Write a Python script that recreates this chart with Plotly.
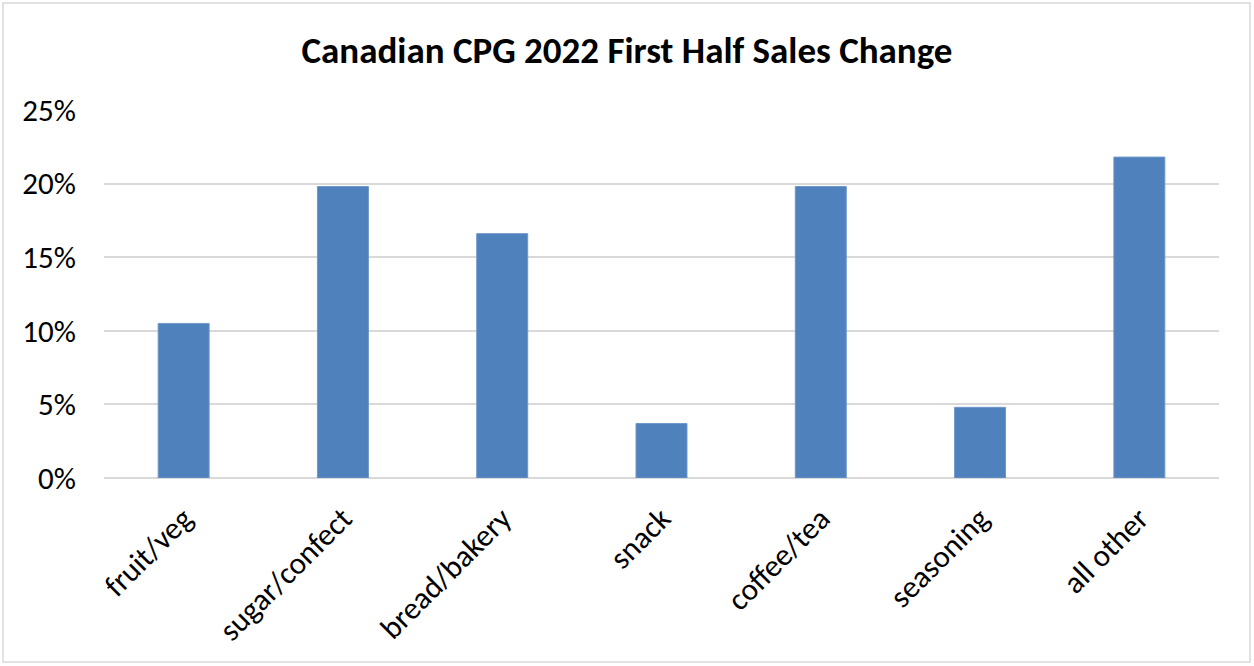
import plotly.graph_objects as go

categories = ["fruit/veg", "sugar/confect", "bread/bakery", "snack", "coffee/tea", "seasoning", "all other"]
values = [10.5, 19.8, 16.6, 3.7, 19.8, 4.8, 21.8]
tick_vals = [0, 5, 10, 15, 20, 25]
tick_text = ["0%", "5%", "10%", "15%", "20%", "25%"]

W, H = 1254, 666
L, R, T, B = 104, 35, 110, 188
pw, ph = W - L - R, H - T - B

font_family = "Carlito, Calibri, Lato, 'Open Sans', sans-serif"

fig = go.Figure(go.Bar(
    x=categories, y=values,
    marker=dict(color="#4F81BD", line=dict(color="#6F97C9", width=1)),
    width=0.32,
))

fig.update_layout(
    width=W, height=H,
    margin=dict(l=L, r=R, t=T, b=B, pad=0, autoexpand=False),
    paper_bgcolor="white", plot_bgcolor="white",
    font=dict(family=font_family, color="#000000"),
    title=dict(text="<b>Canadian CPG 2022 First Half Sales Change</b>",
               x=0.5, xanchor="center", y=1 - 50 / H, yanchor="middle",
               font=dict(size=37, family=font_family, color="#000000")),
    showlegend=False,
    bargap=0.68,
    shapes=[dict(type="rect", xref="paper", yref="paper",
                 x0=(3 - L) / pw, x1=(1250 - L) / pw,
                 y0=((H - B) - 662) / ph, y1=((H - B) - 3) / ph,
                 line=dict(color="#D9D9D9", width=1.5), layer="below")],
)

fig.update_xaxes(tickangle=-45, tickfont=dict(size=31, family=font_family, color="#000000"),
                 showgrid=False, showline=False, automargin=False,
                 ticks="outside", ticklen=9, tickcolor="rgba(0,0,0,0)")
fig.update_yaxes(range=[0, 25], tickvals=tick_vals, ticktext=tick_text,
                 tickfont=dict(size=31, family=font_family, color="#000000"),
                 showgrid=True, gridcolor="#D9D9D9", gridwidth=1.5,
                 zeroline=True, zerolinecolor="#D9D9D9", zerolinewidth=1.5,
                 showline=False, automargin=False,
                 ticks="outside", ticklen=21, tickcolor="rgba(0,0,0,0)")

fig.write_html("out.html")
